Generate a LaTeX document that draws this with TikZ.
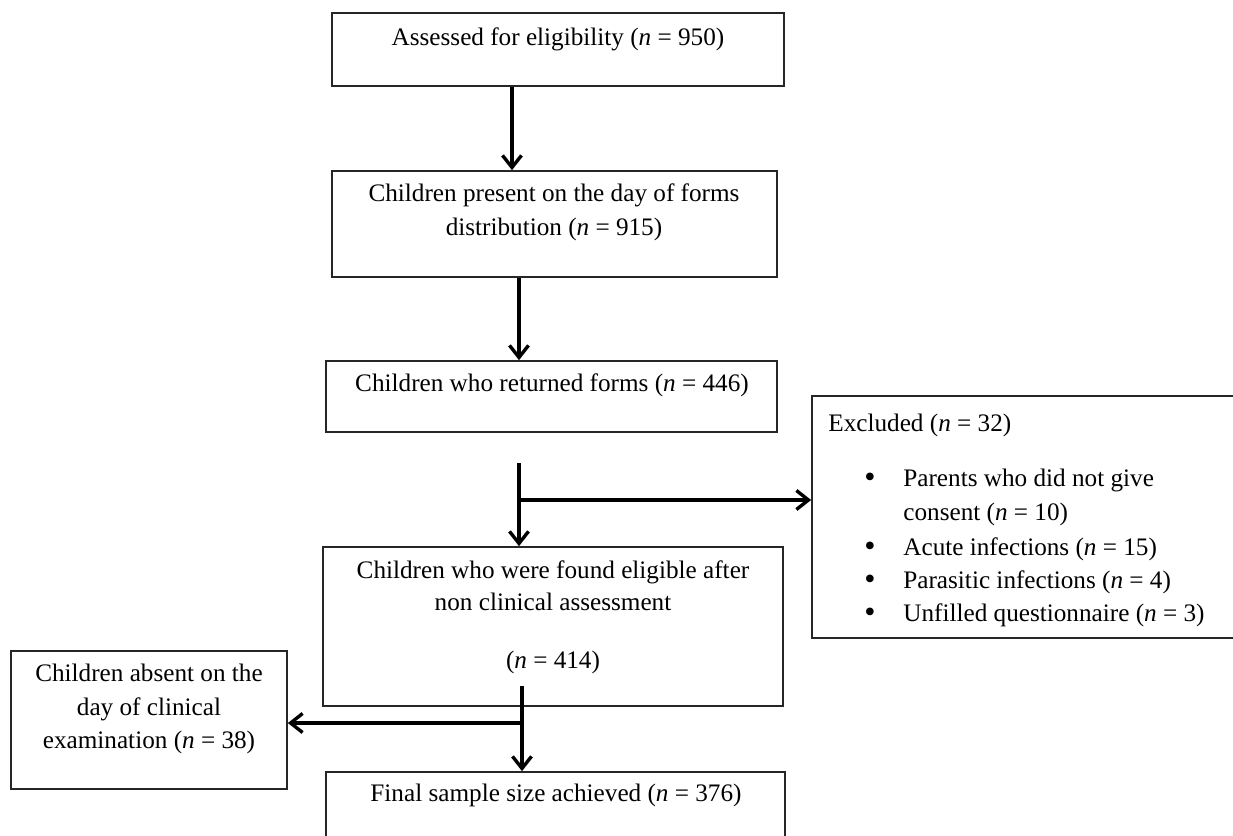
\documentclass[tikz,border=0pt]{standalone}
\usepackage{fontspec}
\setmainfont{Liberation Serif}
\usetikzlibrary{arrows.meta,fit}
\begin{document}
\begin{tikzpicture}[x=0.5pt,y=-0.5pt,
  box/.style={draw=black!85,line width=0.85pt,inner sep=0pt},
  txt/.style={font=\fontsize{12.6}{16}\selectfont,inner sep=0pt,anchor=base},
  ltxt/.style={txt,anchor=base west},
  bul/.style={font=\fontsize{16}{16}\selectfont,inner sep=0pt,anchor=base},
  arr/.style={line width=1.8pt,-{Straight Barb[length=6pt,width=9.5pt,line width=1.7pt]}}]
\useasboundingbox (0,0) rectangle (1233,836);
\fill[white] (0,0) rectangle (1233,836);
% boxes
\node[box,fit={(332,13)(784,86)}] (b1) {};
\node[box,fit={(332,171)(777,277)}] (b2) {};
\node[box,fit={(326,361)(777,432)}] (b3) {};
\node[box,fit={(323,547)(783,706)}] (b4) {};
\node[box,fit={(326,772)(785,845)}] (b5) {};
\node[box,fit={(11,651)(287,789)}] (lb) {};
\node[box,fit={(812,396)(1242,638)}] (ex) {};
% texts
\node[txt] (t1) at (558,45) {Assessed for eligibility (\textit{n} = 950)};
\node[txt] (t2a) at (554,201) {Children present on the day of forms};
\node[txt] (t2b) at (554,235) {distribution (\textit{n} = 915)};
\node[txt] (t3) at (552,391) {Children who returned forms (\textit{n} = 446)};
\node[txt] (t4a) at (553,578) {Children who were found eligible after};
\node[txt] (t4b) at (553,610) {non clinical assessment};
\node[txt] (t4c) at (553,668) {(\textit{n} = 414)};
\node[txt] (t5) at (556,801) {Final sample size achieved (\textit{n} = 376)};
\node[txt] (tla) at (149,681) {Children absent on the};
\node[txt] (tlb) at (149,715) {day of clinical};
\node[txt] (tlc) at (149,748) {examination (\textit{n} = 38)};
\node[ltxt] (te) at (828,431) {Excluded (\textit{n} = 32)};
\foreach \y/\nm in {487/1,556/3,589/4,622/5}{\node[bul] (bu\nm) at (870,\y) {•};}
\node[ltxt] (e1a) at (903,486) {Parents who did not give};
\node[ltxt] (e1b) at (903,520) {consent (\textit{n} = 10)};
\node[ltxt] (e2) at (903,555) {Acute infections (\textit{n} = 15)};
\node[ltxt] (e3) at (903,588) {Parasitic infections (\textit{n} = 4)};
\node[ltxt] (e4) at (903,621) {Unfilled questionnaire (\textit{n} = 3)};
% connectors
\coordinate (a1) at (512,0);
\coordinate (a2) at (519,0);
\coordinate (s3) at (519,463);
\coordinate (j3) at (519,500);
\coordinate (s4) at (522,686);
\coordinate (j4) at (522,723);
\draw[arr] (b1.south -| a1) -- (b2.north -| a1);
\draw[arr] (b2.south -| a2) -- (b3.north -| a2);
\draw[arr] (s3) -- (s3 |- b4.north);
\draw[arr] (j3) -- (j3 -| ex.west);
\draw[arr] (s4) -- (s4 |- b5.north);
\draw[arr] (j4) -- (j4 -| lb.east);
\end{tikzpicture}
\end{document}
